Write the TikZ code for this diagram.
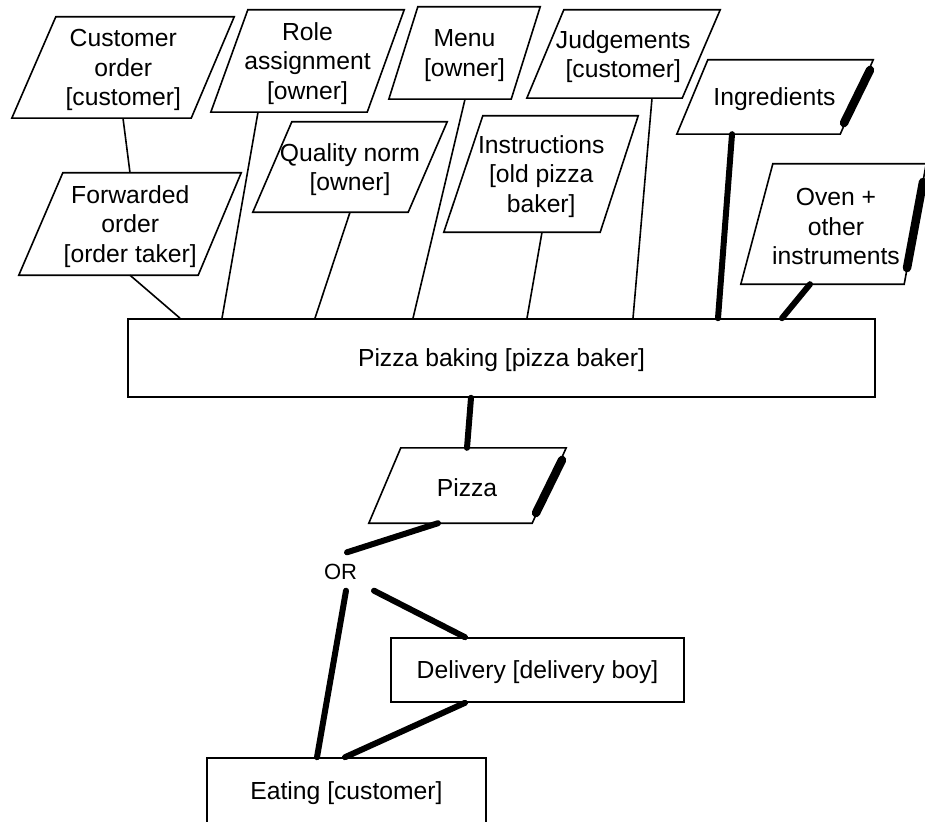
\documentclass[tikz,border=0pt]{standalone}
\usepackage{fontspec}
\setmainfont{Liberation Sans}
\newcommand\mypara[8]{%
  \node[minimum width=#4, minimum height=#5, inner sep=0pt,
        label={[ptext]center:{#8}}] (#1) at (#2,#3) {};
  \draw[thinline] ([xshift=-#6]#1.south west) -- ([xshift=#6]#1.north west)
    -- ([xshift=#7]#1.north east) -- ([xshift=-#7]#1.south east) -- cycle;}
\begin{document}
\begin{tikzpicture}[x=1pt,y=-1pt,
  thinline/.style={line width=1.6pt, line join=miter},
  thickline/.style={line width=6pt, line cap=round},
  barline/.style={line width=8.5pt, line cap=round},
  ptext/.style={inner sep=0pt, yshift=-2.5pt, align=center, font=\fontsize{24.7}{29.7}\selectfont},
  boxnode/.style={draw, line width=1.6pt, inner sep=0pt}]
\useasboundingbox (0,0) rectangle (925,821);
\clip (0,0) rectangle (925,821);
\fill[white] (0,0) rectangle (925,821);

% input parallelograms
\mypara{co}{123.25}{67.5}{178.5}{101}{22}{21.5}{Customer\\order\\{[customer]}}
\mypara{ra}{307.5}{61}{156}{102}{18.5}{18.5}{Role\\assignment\\{[owner]}}
\mypara{fo}{130.25}{224}{178.5}{102}{22}{21.5}{Forwarded\\order\\{[order taker]}}
\mypara{qn}{350}{167}{155}{90}{19.5}{19.5}{Quality norm\\{[owner]}}
\mypara{me}{464.5}{53}{122}{92}{14.5}{14.5}{Menu\\{[owner]}}
\mypara{ju}{623.25}{54}{155.5}{88}{18.5}{19}{Judgements\\{[customer]}}
\mypara{in}{541.25}{174}{155.5}{116}{19.5}{19}{Instructions\\{[old pizza}\\baker]}
\mypara{ig}{774.5}{97}{164}{74}{15.5}{16.5}{Ingredients}
\mypara{ov}{836}{224}{158}{120}{16}{11}{Oven +\\other\\instruments}
\mypara{pz}{467}{485.5}{164}{75}{16}{17}{Pizza}

% thick side bars
\draw[barline] (870,70) -- (844,123);
\draw[barline] (923,182) -- (907,268);
\draw[barline] (562,460) -- (536,513);

% rectangles
\node[boxnode, minimum width=747, minimum height=78,
      label={[ptext]center:{Pizza baking [pizza baker]}}] (pb) at (501.5,358) {};
\node[boxnode, minimum width=293, minimum height=64,
      label={[ptext]center:{Delivery [delivery boy]}}] (de) at (537.5,670) {};
\node[boxnode, minimum width=279, minimum height=68,
      label={[ptext, yshift=1.5pt]center:{Eating [customer]}}] (ea) at (346.5,792) {};
\node[inner sep=0pt, minimum height=38, font=\fontsize{22}{26}\selectfont] (or) at (340.5,571.5) {OR};

% thin connectors
\draw[thinline] (co.south -| 123,0) -- (fo.north -| 130,0);
\draw[thinline] (fo.south -| 130,0) -- (pb.north -| 180,0);
\draw[thinline] (ra.south -| 258,0) -- (pb.north -| 222,0);
\draw[thinline] (qn.south -| 350,0) -- (pb.north -| 315,0);
\draw[thinline] (me.south -| 465,0) -- (pb.north -| 413,0);
\draw[thinline] (in.south -| 542,0) -- (pb.north -| 527,0);
\draw[thinline] (ju.south -| 652,0) -- (pb.north -| 633,0);

% thick connectors
\draw[thickline] (ig.south -| 732,0) -- (pb.north -| 718,0);
\draw[thickline] (ov.south -| 810,0) -- (pb.north -| 782,0);
\draw[thickline] (pb.south -| 471,0) -- (pz.north -| 467,0);
\draw[thickline] (pz.south -| 438,0) -- (or.north -| 347,0);
\draw[thickline] (or.south -| 346,0) -- (ea.north -| 317,0);
\draw[thickline] (or.south -| 374,0) -- (de.north -| 465,0);
\draw[thickline] (de.south -| 465,0) -- (ea.north -| 345,0);
\end{tikzpicture}
\end{document}
